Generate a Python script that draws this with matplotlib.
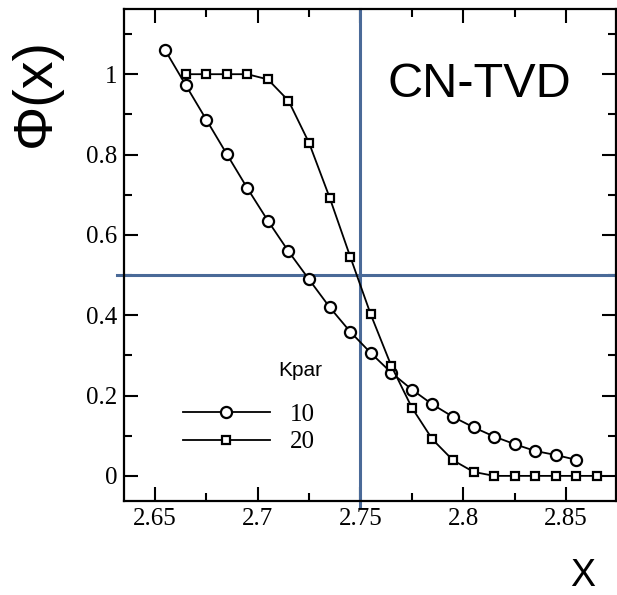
import numpy as np
import matplotlib
matplotlib.use("Agg")
import matplotlib.pyplot as plt
from matplotlib import font_manager
from matplotlib.ticker import MultipleLocator

# profile data, two Kpar values
x10 = [2.655, 2.665, 2.675, 2.685, 2.695, 2.705, 2.715, 2.725, 2.735, 2.745, 2.755,
       2.765, 2.775, 2.785, 2.795, 2.805, 2.815, 2.825, 2.835, 2.845, 2.855]
phi10 = [1.060, 0.973, 0.887, 0.801, 0.716, 0.635, 0.559, 0.489, 0.420, 0.359, 0.306,
         0.257, 0.215, 0.178, 0.147, 0.121, 0.098, 0.079, 0.062, 0.052, 0.040]
x20 = [2.665, 2.675, 2.685, 2.695, 2.705, 2.715, 2.725, 2.735, 2.745, 2.755, 2.765,
       2.775, 2.785, 2.795, 2.805, 2.815, 2.825, 2.835, 2.845, 2.855, 2.865]
phi20 = [1.000, 1.000, 1.000, 1.000, 0.987, 0.934, 0.829, 0.693, 0.546, 0.402, 0.274,
         0.170, 0.091, 0.039, 0.010, 0.000, 0.000, 0.000, 0.000, 0.000, 0.000]
labels = ["10", "20"]
x_mid = 2.75
phi_mid = 0.5

names = {f.name for f in font_manager.fontManager.ttflist}
narrow = "Liberation Sans Narrow" if "Liberation Sans Narrow" in names else "Liberation Sans"
serif = "Liberation Serif"
blue = "#4a6a98"

fig = plt.figure(figsize=(6.17, 5.95), dpi=100)
ax = fig.add_axes([0.201, 0.158, 0.7974, 0.827])

ax.set_xlim(2.635, 2.8743)
ax.set_ylim(-0.0625, 1.1625)

l1, = ax.plot(x10, phi10, color="black", lw=1.3, marker="o", ms=8,
              mfc="white", mec="black", mew=1.6, zorder=3)
l2, = ax.plot(x20, phi20, color="black", lw=1.3, marker="s", ms=5.5,
              mfc="white", mec="black", mew=1.6, zorder=3)

# crosshair at the midpoint
ax.plot([2.6316, 2.8755], [phi_mid, phi_mid], color=blue, lw=2.2, clip_on=False, zorder=2)
ax.plot([x_mid, x_mid], [1.1625, -0.075], color=blue, lw=2.2, clip_on=False, zorder=2)

ax.xaxis.set_minor_locator(MultipleLocator(0.025))
ax.yaxis.set_minor_locator(MultipleLocator(0.1))
ax.set_xticks([2.65, 2.7, 2.75, 2.8, 2.85])
ax.set_xticklabels(["2.65", "2.7", "2.75", "2.8", "2.85"])
ax.set_yticks([0, 0.2, 0.4, 0.6, 0.8, 1.0])
ax.set_yticklabels(["0", "0.2", "0.4", "0.6", "0.8", "1"])
ax.tick_params(which="both", direction="in", top=True, right=True, width=1.5)
ax.tick_params(which="major", length=10, labelsize=18, pad=5)
ax.tick_params(which="minor", length=6)
for lab in ax.get_xticklabels() + ax.get_yticklabels():
    lab.set_family(serif)
for s in ax.spines.values():
    s.set_linewidth(1.6)

ax.text(0.5346, 0.846, "CN-TVD", transform=ax.transAxes, fontsize=35,
        family=narrow, ha="left", va="center")

ax.legend([l1, l2], labels, loc="upper left",
          bbox_to_anchor=(0.085, 0.234), frameon=False, handlelength=3.45,
          prop={"family": serif, "size": 18},
          labelspacing=0.2, handletextpad=0.8, borderpad=0.2)
ax.text(0.313, 0.266, "Kpar", transform=ax.transAxes, fontsize=15,
        family="Liberation Sans", ha="left", va="center")

fig.text(0.058, 0.845, "Φ(x)", rotation=90, fontsize=40, family="Liberation Sans",
         ha="center", va="center")
fig.text(0.944, 0.002, "X", fontsize=27, family=narrow, ha="center", va="bottom")

fig.savefig("out.png", dpi=100)
